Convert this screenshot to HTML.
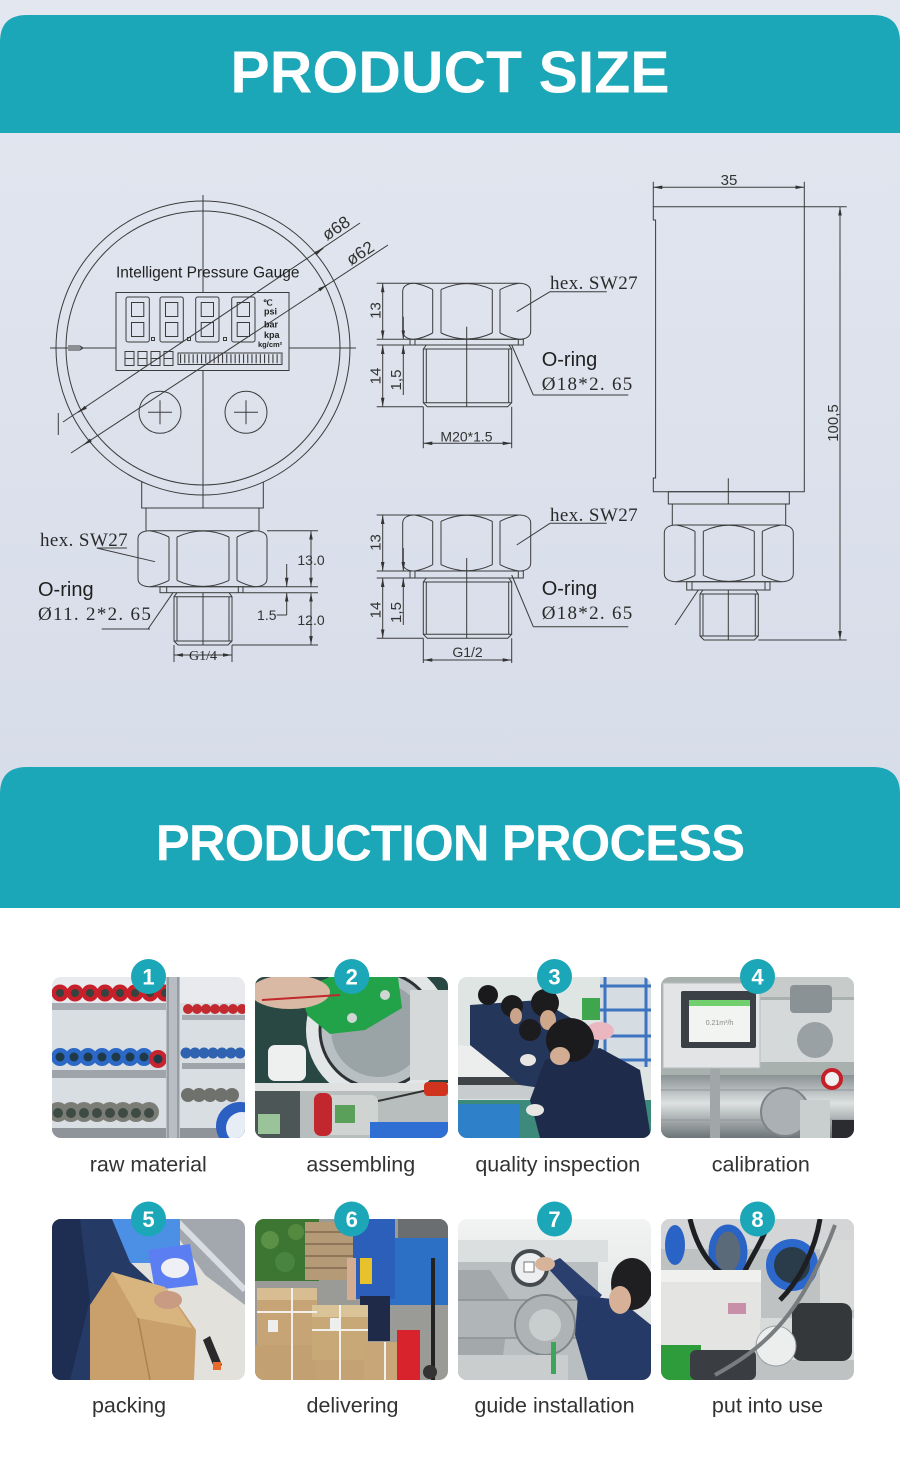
<!DOCTYPE html>
<html><head><meta charset="utf-8"><title>Product</title>
<style>html,body{margin:0;padding:0;background:#fff}svg{display:block}</style>
</head><body>
<svg xmlns="http://www.w3.org/2000/svg" width="900" height="1482" viewBox="0 0 900 1482">
<defs>
 <linearGradient id="bg" x1="0" y1="0" x2="0" y2="1"><stop offset="0" stop-color="#e3e7f0"/><stop offset="1" stop-color="#d5dbe8"/></linearGradient>
 <linearGradient id="pipe" x1="0" y1="0" x2="0" y2="1"><stop offset="0" stop-color="#8a9294"/><stop offset="0.45" stop-color="#dde1e1"/><stop offset="1" stop-color="#6c7477"/></linearGradient>
 <linearGradient id="fog" x1="0" y1="0" x2="0" y2="1"><stop offset="0" stop-color="#f2f4f3"/><stop offset="1" stop-color="#d3d8d8"/></linearGradient>
 <marker id="ar" viewBox="0 0 10 4" refX="10" refY="2" markerWidth="9" markerHeight="3.6" markerUnits="userSpaceOnUse" orient="auto-start-reverse"><path d="M0,0 L10,2 L0,4 Z" fill="#333"/></marker>
 <clipPath id="k1"><rect x="52" y="977" width="193" height="161" rx="9"/></clipPath>
 <clipPath id="k2"><rect x="255" y="977" width="193" height="161" rx="9"/></clipPath>
 <clipPath id="k3"><rect x="458" y="977" width="193" height="161" rx="9"/></clipPath>
 <clipPath id="k4"><rect x="661" y="977" width="193" height="161" rx="9"/></clipPath>
 <clipPath id="k5"><rect x="52" y="1219" width="193" height="161" rx="9"/></clipPath>
 <clipPath id="k6"><rect x="255" y="1219" width="193" height="161" rx="9"/></clipPath>
 <clipPath id="k7"><rect x="458" y="1219" width="193" height="161" rx="9"/></clipPath>
 <clipPath id="k8"><rect x="661" y="1219" width="193" height="161" rx="9"/></clipPath>
</defs>

<rect width="900" height="908" fill="url(#bg)"/>
<rect y="908" width="900" height="574" fill="#fff"/>

<!-- headers -->
<path d="M0,133 V42 Q0,15 27,15 H873 Q900,15 900,42 V133 Z" fill="#1ba7b7"/>
<text x="450" y="92.7" text-anchor="middle" font-family="Liberation Sans, Arial, sans-serif" font-weight="bold" font-size="59" fill="#fff">PRODUCT SIZE</text>
<path d="M0,908 V794 Q0,767 27,767 H873 Q900,767 900,794 V908 Z" fill="#1ba7b7"/>
<text x="450" y="860.7" text-anchor="middle" font-family="Liberation Sans, Arial, sans-serif" font-weight="bold" font-size="51" letter-spacing="-1" fill="#fff">PRODUCTION PROCESS</text>

<!-- ================= DRAWINGS ================= -->
<g fill="none" stroke="#3b3b3b" stroke-width="1">
 <!-- gauge -->
 <circle cx="203" cy="348" r="147"/>
 <circle cx="203" cy="348" r="137"/>
 <path d="M203,195 V292.5 M203,370.5 V508"/>
 <path d="M50,348 H116 M289,348 H356"/>
 <path d="M68,346 H80 L83,348 L80,350 H68"/>
 <rect x="116" y="292.5" width="173" height="78"/>
 <!-- digits -->
 <rect x="126" y="297" width="23.3" height="45" rx="2"/><rect x="131.5" y="302.5" width="12.3" height="14"/><rect x="131.5" y="322.5" width="12.3" height="14"/>
 <rect x="160" y="297" width="23.3" height="45" rx="2"/><rect x="165.5" y="302.5" width="12.3" height="14"/><rect x="165.5" y="322.5" width="12.3" height="14"/>
 <rect x="195.7" y="297" width="23.3" height="45" rx="2"/><rect x="201.2" y="302.5" width="12.3" height="14"/><rect x="201.2" y="322.5" width="12.3" height="14"/>
 <rect x="231.7" y="297" width="23.3" height="45" rx="2"/><rect x="237.2" y="302.5" width="12.3" height="14"/><rect x="237.2" y="322.5" width="12.3" height="14"/>
 <rect x="151.5" y="337.5" width="3" height="3"/><rect x="187.5" y="337.5" width="3" height="3"/><rect x="223.5" y="337.5" width="3" height="3"/>
 <rect x="125" y="351.5" width="9" height="14"/><rect x="138" y="351.5" width="9" height="14"/><rect x="151" y="351.5" width="9" height="14"/><rect x="164" y="351.5" width="9" height="14"/>
 <path d="M125,358.5 H134 M138,358.5 H147 M151,358.5 H160 M164,358.5 H173"/>
 <rect x="178" y="353" width="104" height="11.5"/>
 <path d="M180,358.7 H281" stroke-width="9" stroke-dasharray="1.1 3.1"/>
 <!-- buttons -->
 <circle cx="160" cy="412.3" r="21"/><path d="M148,412.3 H172 M160,400.3 V424.3"/>
 <circle cx="246" cy="412.3" r="21"/><path d="M234,412.3 H258 M246,400.3 V424.3"/>
 <!-- diameter lines -->
 <path d="M63,422 L360,223"/>
 <path d="M71,453 L388,245"/>
 <path d="M58.3,413 V435"/>
 <path d="M86.6,406.7 L78.3,412.3" marker-end="url(#ar)"/>
 <path d="M315,253.9 L323.3,248.3" marker-end="url(#ar)"/>
 <path d="M91.7,439.5 L83.3,445" marker-end="url(#ar)"/>
 <path d="M318.3,290.5 L326.7,285" marker-end="url(#ar)"/>

 <!-- left fitting -->
 <path d="M141.7,481.6 V508 H263.3 V481.6"/>
 <path d="M146,508 V530.7 M259,508 V530.7"/>
 <path d="M138,538.7 C138,532.7 144,530.7 150,530.7 L255,530.7 C261,530.7 267,532.7 267,538.7 L267,578.7 C267,584.7 261,586.7 255,586.7 L150,586.7 C144,586.7 138,584.7 138,578.7 Z"/>
 <path d="M150,530.7 Q159.5,532.2 169,537 M177,537 Q203,525 229,537 M237,537 Q246,532.2 255,530.7"/>
 <path d="M150,586.7 Q159.5,585.2 169,580.4 M177,580.4 Q203,592.4 229,580.4 M237,580.4 Q246,585.2 255,586.7"/>
 <path d="M169,537 V580.4 M177,537 V580.4 M229,537 V580.4 M237,537 V580.4"/>
 <rect x="160" y="586.7" width="83" height="6"/>
 <path d="M166.7,586.7 V592.7 M238.3,586.7 V592.7"/>
 <path d="M177,592.7 L174,596.7 L174,641 L178,645 L228,645 L232,641 L232,596.7 L229,592.7"/>
 <path d="M174,596.7 H232 M174,641 H232 M177,596.7 V641 M229,596.7 V641 M203,592.7 V645"/>
 <!-- left dims -->
 <path d="M311,530.7 V586.7" marker-start="url(#ar)" marker-end="url(#ar)"/>
 <path d="M311,592.7 V645" marker-start="url(#ar)" marker-end="url(#ar)"/>
 <path d="M267,530.7 H318 M243,586.7 H318 M243,592.7 H318 M232,645 H318"/>
 <path d="M286.7,564 V586.7" marker-end="url(#ar)"/>
 <path d="M286.7,615 V592.7" marker-end="url(#ar)"/>
 <path d="M276.7,615 H286.7"/>
 <path d="M174,655 H232" marker-start="url(#ar)" marker-end="url(#ar)"/>
 <path d="M174,645 V662 M232,645 V662"/>
 <!-- left leaders -->
 <path d="M96.7,548 H127 M96.7,548 L155,561.7"/>
 <path d="M101.7,629 H150 M148,629 L173,592.7"/>

 <!-- middle top fitting -->
 <path d="M402.7,291.3 C402.7,285.3 408.7,283.3 414.7,283.3 L518.7,283.3 C524.7,283.3 530.7,285.3 530.7,291.3 L530.7,331.3 C530.7,337.3 524.7,339.3 518.7,339.3 L414.7,339.3 C408.7,339.3 402.7,337.3 402.7,331.3 Z"/>
 <path d="M414.7,283.3 Q423.7,284.8 432.7,289.6 M441,289.6 Q466.7,277.6 492.3,289.6 M500,289.6 Q509.4,284.8 518.7,283.3"/>
 <path d="M414.7,339.3 Q423.7,337.8 432.7,333 M441,333 Q466.7,345 492.3,333 M500,333 Q509.4,337.8 518.7,339.3"/>
 <path d="M432.7,289.6 V333 M441,289.6 V333 M492.3,289.6 V333 M500,289.6 V333"/>
 <rect x="410" y="339.3" width="113.3" height="5.7"/>
 <path d="M415,339.3 V345 M518.3,339.3 V345"/>
 <path d="M426.3,345 L423.3,349 L423.3,402.7 L427.3,406.7 L507.7,406.7 L511.7,402.7 L511.7,349 L508.7,345"/>
 <path d="M423.3,349 H511.7 M423.3,402.7 H511.7 M426.3,349 V402.7 M508.7,349 V402.7 M466.7,326.7 V406.7"/>
 <path d="M382.7,283.3 V339.3" marker-start="url(#ar)" marker-end="url(#ar)"/>
 <path d="M382.7,345 V406.7" marker-start="url(#ar)" marker-end="url(#ar)"/>
 <path d="M376.7,283.3 H414 M376.7,339.3 H410 M376.7,345 H423.3 M376.7,406.7 H423.3"/>
 <path d="M403.3,316.7 V339.3" marker-end="url(#ar)"/>
 <path d="M403.3,395 V345" marker-end="url(#ar)"/>
 <path d="M423.3,443.3 H511.7" marker-start="url(#ar)" marker-end="url(#ar)"/>
 <path d="M423.3,406.7 V448.3 M511.7,406.7 V448.3"/>
 <path d="M550,291.7 H606.7 M550,291.7 L516.7,311.7"/>
 <path d="M533.3,395 H628.3 M533.3,395 L511.7,345"/>

 <!-- middle bottom fitting -->
 <path d="M402.7,523 C402.7,517 408.7,515 414.7,515 L518.7,515 C524.7,515 530.7,517 530.7,523 L530.7,563 C530.7,569 524.7,571 518.7,571 L414.7,571 C408.7,571 402.7,569 402.7,563 Z"/>
 <path d="M414.7,515 Q423.7,516.5 432.7,521.3 M441,521.3 Q466.7,509.3 492.3,521.3 M500,521.3 Q509.4,516.5 518.7,515"/>
 <path d="M414.7,571 Q423.7,569.5 432.7,564.7 M441,564.7 Q466.7,576.7 492.3,564.7 M500,564.7 Q509.4,569.5 518.7,571"/>
 <path d="M432.7,521.3 V564.7 M441,521.3 V564.7 M492.3,521.3 V564.7 M500,521.3 V564.7"/>
 <rect x="410" y="571" width="113.3" height="7"/>
 <path d="M415,571 V578 M518.3,571 V578"/>
 <path d="M426.3,578 L423.3,582 L423.3,634.3 L427.3,638.3 L507.7,638.3 L511.7,634.3 L511.7,582 L508.7,578"/>
 <path d="M423.3,582 H511.7 M423.3,634.3 H511.7 M426.3,582 V634.3 M508.7,582 V634.3 M466.7,558 V638.3"/>
 <path d="M382.7,515 V571" marker-start="url(#ar)" marker-end="url(#ar)"/>
 <path d="M382.7,578 V638.3" marker-start="url(#ar)" marker-end="url(#ar)"/>
 <path d="M376.7,515 H414 M376.7,571 H410 M376.7,578 H423.3 M376.7,638.3 H423.3"/>
 <path d="M403.3,548 V571" marker-end="url(#ar)"/>
 <path d="M403.3,625 V578" marker-end="url(#ar)"/>
 <path d="M423.3,660 H511.7" marker-start="url(#ar)" marker-end="url(#ar)"/>
 <path d="M423.3,638.3 V663 M511.7,638.3 V663"/>
 <path d="M550,523.3 H606.7 M550,523.3 L516.7,545"/>
 <path d="M533.3,626.7 H628.3 M533.3,626.7 L511.7,575"/>

 <!-- right side view -->
 <path d="M653.3,206.7 H804.3 V491.7 H653.3 V478 H655.6 V220 H653.3 Z"/>
 <rect x="668.3" y="491.7" width="121" height="12.3"/>
 <path d="M672.3,504 V525 M785.7,504 V525 M728.3,478.3 V504"/>
 <path d="M664.3,533 C664.3,527 670.3,525 676.3,525 L781.3,525 C787.3,525 793.3,527 793.3,533 L793.3,573.7 C793.3,579.7 787.3,581.7 781.3,581.7 L676.3,581.7 C670.3,581.7 664.3,579.7 664.3,573.7 Z"/>
 <path d="M676.3,525 Q685.7,526.5 695,531.3 M703.3,531.3 Q728.8,519.3 754.3,531.3 M762.3,531.3 Q771.8,526.5 781.3,525"/>
 <path d="M676.3,581.7 Q685.7,580.2 695,575.4 M703.3,575.4 Q728.8,587.4 754.3,575.4 M762.3,575.4 Q771.8,580.2 781.3,581.7"/>
 <path d="M695,531.3 V575.4 M703.3,531.3 V575.4 M754.3,531.3 V575.4 M762.3,531.3 V575.4"/>
 <rect x="686.7" y="581.7" width="83.3" height="8.3"/>
 <path d="M692,581.7 V590 M765,581.7 V590"/>
 <path d="M703,590 L700,594 L700,636 L704,640 L754.3,640 L758.3,636 L758.3,594 L755.3,590"/>
 <path d="M700,594 H758.3 M700,636 H758.3 M703,594 V636 M755.3,594 V636 M728.3,590 V640"/>
 <path d="M698.3,590 L675,625"/>
 <path d="M653.3,187.3 H804.3" marker-start="url(#ar)" marker-end="url(#ar)"/>
 <path d="M653.3,181.7 V206.7 M804.3,181.7 V206.7"/>
 <path d="M840,206.7 V640" marker-start="url(#ar)" marker-end="url(#ar)"/>
 <path d="M804.3,206.7 H846.7 M758.3,640 H846.7"/>
</g>

<!-- drawing texts -->
<g font-family="Liberation Sans, Arial, sans-serif" fill="#1f1f1f">
 <text x="116" y="277.5" font-size="15.5">Intelligent Pressure Gauge</text>
 <text x="263" y="305.5" font-size="8.5" font-weight="bold">℃</text>
 <text x="264" y="314.5" font-size="9" font-weight="bold">psi</text>
 <text x="264" y="327.5" font-size="9" font-weight="bold">bar</text>
 <text x="264" y="338" font-size="9" font-weight="bold">kpa</text>
 <text x="258" y="347" font-size="7.5" font-weight="bold">kg/cm²</text>
 <text x="327" y="241" font-size="17" fill="#333" transform="rotate(-33.8 327 241)">ø68</text>
 <text x="351" y="266" font-size="17" fill="#333" transform="rotate(-33.3 351 266)">ø62</text>
 <text x="38" y="596" font-size="20">O-ring</text>
 <text x="541.7" y="366" font-size="20">O-ring</text>
 <text x="541.7" y="595" font-size="20">O-ring</text>
</g>
<g font-family="Liberation Serif, 'Times New Roman', serif" fill="#2a2a2a" font-size="19">
 <text x="40" y="546" letter-spacing="0.4">hex. SW27</text>
 <text x="38" y="620" letter-spacing="1.3">Ø11. 2*2. 65</text>
 <text x="550" y="289" letter-spacing="0.4">hex. SW27</text>
 <text x="541.7" y="390" letter-spacing="1.3">Ø18*2. 65</text>
 <text x="550" y="521" letter-spacing="0.4">hex. SW27</text>
 <text x="541.7" y="619" letter-spacing="1.3">Ø18*2. 65</text>
 <text x="203" y="660" font-size="14" text-anchor="middle">G1/4</text>
</g>
<g font-family="Liberation Sans, Arial, sans-serif" fill="#333" font-size="14">
 <text x="311" y="565" text-anchor="middle">13.0</text>
 <text x="311" y="625" text-anchor="middle">12.0</text>
 <text x="276.5" y="620" text-anchor="end">1.5</text>
 <text x="380.5" y="310.5" text-anchor="middle" font-size="15" transform="rotate(-90 380.5 310.5)">13</text>
 <text x="380.5" y="376" text-anchor="middle" font-size="15" transform="rotate(-90 380.5 376)">14</text>
 <text x="401" y="380" text-anchor="middle" font-size="15" transform="rotate(-90 401 380)">1,5</text>
 <text x="380.5" y="542.5" text-anchor="middle" font-size="15" transform="rotate(-90 380.5 542.5)">13</text>
 <text x="380.5" y="610" text-anchor="middle" font-size="15" transform="rotate(-90 380.5 610)">14</text>
 <text x="401" y="612.5" text-anchor="middle" font-size="15" transform="rotate(-90 401 612.5)">1,5</text>
 <text x="466.5" y="441.5" text-anchor="middle">M20*1.5</text>
 <text x="467.5" y="657" text-anchor="middle">G1/2</text>
 <text x="729" y="185" text-anchor="middle" font-size="15">35</text>
 <text x="838" y="423" text-anchor="middle" font-size="15" transform="rotate(-90 838 423)">100,5</text>
</g>

<!-- ================= PHOTOS ================= -->
<!-- 1 raw material -->
<g clip-path="url(#k1)">
 <rect x="52" y="977" width="193" height="161" fill="#d9dee3"/>
 <rect x="52" y="977" width="193" height="26" fill="#e8eaee"/>
 <g fill="#c8202b"><circle cx="60" cy="993" r="8.5"/><circle cx="75" cy="993" r="8.5"/><circle cx="90" cy="993" r="8.5"/><circle cx="105" cy="993" r="8.5"/><circle cx="120" cy="993" r="8.5"/><circle cx="135" cy="993" r="8.5"/><circle cx="150" cy="993" r="8.5"/><circle cx="165" cy="993" r="8.5"/></g>
 <g fill="#34443f"><circle cx="60" cy="993" r="4"/><circle cx="75" cy="993" r="4"/><circle cx="90" cy="993" r="4"/><circle cx="105" cy="993" r="4"/><circle cx="120" cy="993" r="4"/><circle cx="135" cy="993" r="4"/><circle cx="150" cy="993" r="4"/><circle cx="165" cy="993" r="4"/></g>
 <g fill="#c22a2f"><circle cx="188" cy="1009" r="5"/><circle cx="197" cy="1009" r="5"/><circle cx="206" cy="1009" r="5"/><circle cx="215" cy="1009" r="5"/><circle cx="224" cy="1009" r="5"/><circle cx="233" cy="1009" r="5"/><circle cx="242" cy="1009" r="5"/></g>
 <rect x="52" y="1003" width="120" height="7" fill="#a7adb3"/>
 <rect x="182" y="1015" width="63" height="5" fill="#a7adb3"/>
 <g fill="#2c69c6"><circle cx="60" cy="1057" r="9"/><circle cx="74" cy="1057" r="9"/><circle cx="88" cy="1057" r="9"/><circle cx="102" cy="1057" r="9"/><circle cx="116" cy="1057" r="9"/><circle cx="130" cy="1057" r="9"/><circle cx="144" cy="1057" r="9"/></g>
 <circle cx="158" cy="1059" r="9" fill="#c7252d"/>
 <g fill="#1e3a48"><circle cx="60" cy="1057" r="4.5"/><circle cx="74" cy="1057" r="4.5"/><circle cx="88" cy="1057" r="4.5"/><circle cx="102" cy="1057" r="4.5"/><circle cx="116" cy="1057" r="4.5"/><circle cx="130" cy="1057" r="4.5"/><circle cx="144" cy="1057" r="4.5"/><circle cx="158" cy="1059" r="4.5"/></g>
 <g fill="#2f62b0"><circle cx="186" cy="1053" r="5.5"/><circle cx="195" cy="1053" r="5.5"/><circle cx="204" cy="1053" r="5.5"/><circle cx="213" cy="1053" r="5.5"/><circle cx="222" cy="1053" r="5.5"/><circle cx="231" cy="1053" r="5.5"/><circle cx="240" cy="1053" r="5.5"/></g>
 <rect x="52" y="1070" width="120" height="8" fill="#9ea4aa"/>
 <rect x="182" y="1063" width="63" height="6" fill="#9ea4aa"/>
 <g fill="#7b7d76"><circle cx="58" cy="1112" r="10"/><circle cx="71" cy="1112" r="10"/><circle cx="84" cy="1112" r="10"/><circle cx="97" cy="1112" r="10"/><circle cx="110" cy="1112" r="10"/><circle cx="123" cy="1112" r="10"/><circle cx="136" cy="1112" r="10"/><circle cx="149" cy="1112" r="10"/></g>
 <g fill="#3e4b45"><circle cx="58" cy="1113" r="5"/><circle cx="71" cy="1113" r="5"/><circle cx="84" cy="1113" r="5"/><circle cx="97" cy="1113" r="5"/><circle cx="110" cy="1113" r="5"/><circle cx="123" cy="1113" r="5"/><circle cx="136" cy="1113" r="5"/><circle cx="149" cy="1113" r="5"/></g>
 <g fill="#6e716c"><circle cx="188" cy="1095" r="7"/><circle cx="199" cy="1095" r="7"/><circle cx="210" cy="1095" r="7"/><circle cx="221" cy="1095" r="7"/><circle cx="232" cy="1095" r="7"/></g>
 <rect x="52" y="1128" width="193" height="10" fill="#8e949a"/>
 <rect x="166" y="977" width="14" height="161" fill="#b7bdc3"/>
 <path d="M168,977 V1138 M178,977 V1138" stroke="#8a9197" stroke-width="1.5"/>
 <circle cx="240" cy="1126" r="24" fill="#2b5fc2"/>
 <circle cx="242" cy="1128" r="16" fill="#e7edf5"/>
</g>

<!-- 2 assembling -->
<g clip-path="url(#k2)">
 <rect x="255" y="977" width="193" height="161" fill="#2a4843"/>
 <circle cx="378" cy="1030" r="72" fill="#e3e6e7"/>
 <circle cx="378" cy="1030" r="58" fill="#b9c0c3" stroke="#2d3234" stroke-width="3"/>
 <circle cx="378" cy="1030" r="47" fill="#9aa3a6"/>
 <rect x="410" y="990" width="38" height="90" fill="#d5d9da"/>
 <polygon points="298,990 330,977 398,977 402,1008 365,1030 330,1034 308,1016" fill="#22a34a"/>
 <circle cx="352" cy="1018" r="5" fill="#cfd6d4"/>
 <circle cx="385" cy="995" r="5" fill="#cfd6d4"/>
 <ellipse cx="290" cy="992" rx="40" ry="17" fill="#d9b9a3"/>
 <path d="M262,1000 L340,995" stroke="#c0282c" stroke-width="2"/>
 <rect x="268" y="1045" width="38" height="36" rx="7" fill="#eef0f0"/>
 <rect x="255" y="1083" width="193" height="55" fill="#b8bdbd"/>
 <rect x="255" y="1083" width="193" height="8" fill="#e0e2e2"/>
 <rect x="255" y="1091" width="45" height="47" fill="#4d5656"/>
 <rect x="258" y="1114" width="22" height="20" fill="#9bc39a"/>
 <rect x="320" y="1095" width="58" height="40" rx="7" fill="#cfd3d1"/>
 <rect x="314" y="1093" width="18" height="43" rx="7" fill="#c2272d"/>
 <rect x="335" y="1105" width="20" height="18" fill="#5aa05a"/>
 <rect x="370" y="1122" width="78" height="16" fill="#2f6fd4"/>
 <path d="M378,1101 L428,1090" stroke="#333" stroke-width="2"/>
 <rect x="424" y="1082" width="24" height="14" rx="4" fill="#d0341f"/>
</g>

<!-- 3 quality inspection -->
<g clip-path="url(#k3)">
 <rect x="458" y="977" width="193" height="161" fill="#dfe5e3"/>
 <rect x="600" y="977" width="51" height="90" fill="#d5dde2"/>
 <path d="M605,977 V1067 M646,977 V1067 M600,986 H651 M600,1010 H651 M600,1036 H651 M600,1060 H651" stroke="#3c74c0" stroke-width="3"/>
 <rect x="582" y="998" width="18" height="22" fill="#3ea64c"/>
 <rect x="458" y="1100" width="193" height="38" fill="#3d8a7c"/>
 <rect x="458" y="1104" width="62" height="34" fill="#2e80c8"/>
 <polygon points="458,1045 540,1055 540,1078 458,1078" fill="#eceeee"/>
 <rect x="458" y="1077" width="82" height="8" fill="#3f4448"/>
 <rect x="458" y="1085" width="82" height="14" fill="#c7cccf"/>
 <polygon points="470,1005 540,1000 600,1035 590,1095 520,1085 470,1045" fill="#24365a"/>
 <ellipse cx="600" cy="1031" rx="14" ry="9" fill="#eab7c0"/>
 <circle cx="488" cy="995" r="10" fill="#1a1a1d"/>
 <circle cx="512" cy="1006" r="11" fill="#1c1c1e"/>
 <ellipse cx="516" cy="1016" rx="6" ry="8" fill="#c9a48a"/>
 <circle cx="545" cy="1003" r="14" fill="#1c1b1d"/>
 <ellipse cx="548" cy="1020" rx="8" ry="10" fill="#cfa78b"/>
 <circle cx="530" cy="1030" r="11" fill="#1c1b1d"/>
 <polygon points="545,1060 600,1048 640,1070 651,1138 540,1138 530,1100" fill="#1e2b4a"/>
 <ellipse cx="570" cy="1040" rx="24" ry="22" fill="#1b1a1c"/>
 <ellipse cx="560" cy="1056" rx="10" ry="9" fill="#d3ad93"/>
 <ellipse cx="535" cy="1110" rx="9" ry="6" fill="#e8e6e2"/>
 <ellipse cx="528" cy="1060" rx="8" ry="6" fill="#e8e6e2"/>
</g>

<!-- 4 calibration -->
<g clip-path="url(#k4)">
 <rect x="661" y="977" width="193" height="161" fill="#a9b1ae"/>
 <rect x="760" y="977" width="94" height="20" fill="#c7cccb"/>
 <rect x="760" y="1000" width="94" height="62" fill="#d5d9d9"/>
 <rect x="790" y="985" width="42" height="28" rx="4" fill="#8b9296"/>
 <circle cx="815" cy="1040" r="18" fill="#9aa1a4"/>
 <rect x="661" y="1075" width="193" height="63" fill="url(#pipe)"/>
 <path d="M661,1090 H854 M661,1120 H854" stroke="#8f9799" stroke-width="1"/>
 <circle cx="785" cy="1112" r="24" fill="#aab0b3" stroke="#7c8487" stroke-width="2"/>
 <rect x="800" y="1100" width="30" height="38" fill="#c9cecf"/>
 <circle cx="832" cy="1079" r="9" fill="#f0f0f0" stroke="#c61f28" stroke-width="4"/>
 <rect x="832" y="1120" width="22" height="18" fill="#2a2c2f"/>
 <rect x="710" y="1066" width="10" height="72" fill="#a1a6a8"/>
 <rect x="663" y="983" width="97" height="85" fill="#e2e4e5" stroke="#b8bcbe"/>
 <rect x="681" y="991" width="75" height="57" rx="2" fill="#3b4046"/>
 <rect x="689" y="1000" width="61" height="42" fill="#f2f4f2"/>
 <rect x="689" y="1000" width="61" height="6" fill="#72cf6e"/>
 <text x="719.5" y="1025" text-anchor="middle" font-family="Liberation Sans, sans-serif" font-size="7" fill="#888">0.21m³/h</text>
</g>

<!-- 5 packing -->
<g clip-path="url(#k5)">
 <rect x="52" y="1219" width="193" height="161" fill="#e3e1dc"/>
 <polygon points="165,1219 245,1219 245,1305 205,1275" fill="#a3a8ae"/>
 <path d="M175,1219 L245,1290" stroke="#d9dde2" stroke-width="6"/>
 <rect x="100" y="1219" width="80" height="44" fill="#4c90e6"/>
 <polygon points="148,1250 190,1244 198,1285 155,1290" fill="#5b7ef2"/>
 <ellipse cx="175" cy="1268" rx="14" ry="10" fill="#eef0f6"/>
 <polygon points="52,1219 112,1219 130,1262 162,1292 152,1330 122,1346 104,1380 52,1380" fill="#263a66"/>
 <polygon points="52,1219 80,1219 90,1300 70,1380 52,1380" fill="#1e2e52"/>
 <polygon points="90,1305 112,1272 168,1290 196,1330 194,1380 90,1380" fill="#c9a06b"/>
 <polygon points="112,1272 165,1287 192,1328 138,1318" fill="#d8b47e"/>
 <path d="M138,1318 L150,1380" stroke="#a9834f" stroke-width="1.5"/>
 <ellipse cx="168" cy="1300" rx="14" ry="9" fill="#c89b82"/>
 <polygon points="203,1340 210,1336 222,1365 215,1370" fill="#2a2a2a"/>
 <rect x="213" y="1362" width="8" height="8" fill="#e96a2a"/>
</g>

<!-- 6 delivering -->
<g clip-path="url(#k6)">
 <rect x="255" y="1219" width="193" height="161" fill="#9a9a96"/>
 <rect x="255" y="1219" width="64" height="62" fill="#3d7532"/>
 <circle cx="270" cy="1240" r="9" fill="#5a9147"/><circle cx="296" cy="1232" r="8" fill="#548a40"/><circle cx="285" cy="1262" r="10" fill="#4a8540"/>
 <rect x="305" y="1222" width="50" height="58" fill="#b59a78"/>
 <path d="M305,1232 H355 M305,1244 H355 M305,1256 H355 M305,1268 H355" stroke="#8f7658" stroke-width="2"/>
 <rect x="398" y="1219" width="50" height="22" fill="#6b6e70"/>
 <rect x="380" y="1238" width="68" height="67" fill="#2c70c6"/>
 <rect x="353" y="1219" width="42" height="80" fill="#2b5fba"/>
 <rect x="360" y="1258" width="12" height="26" fill="#e8c22a"/>
 <rect x="347" y="1258" width="9" height="42" fill="#d4ad92"/>
 <rect x="360" y="1296" width="30" height="45" fill="#1e2a48"/>
 <rect x="257" y="1288" width="60" height="57" fill="#c6a475"/>
 <rect x="257" y="1288" width="60" height="12" fill="#d8bd92"/>
 <rect x="255" y="1345" width="62" height="35" fill="#c2a072"/>
 <rect x="312" y="1305" width="56" height="55" fill="#c9a878"/>
 <rect x="312" y="1305" width="56" height="12" fill="#dac397"/>
 <rect x="316" y="1360" width="52" height="20" fill="#c4a274"/>
 <rect x="364" y="1342" width="36" height="38" fill="#c8a677"/>
 <path d="M292,1288 V1380 M340,1305 V1380 M385,1342 V1380 M257,1312 H317 M312,1330 H368" stroke="#f2f0ea" stroke-width="2"/>
 <rect x="268" y="1320" width="10" height="12" fill="#eeeeee"/>
 <rect x="330" y="1318" width="9" height="11" fill="#eeeeee"/>
 <rect x="397" y="1330" width="23" height="50" fill="#d9232c"/>
 <path d="M433,1258 V1380" stroke="#222" stroke-width="4"/>
 <circle cx="430" cy="1372" r="7" fill="#333"/>
</g>

<!-- 7 guide installation -->
<g clip-path="url(#k7)">
 <rect x="458" y="1219" width="193" height="161" fill="url(#fog)"/>
 <rect x="458" y="1240" width="150" height="22" fill="#dcdfdf"/>
 <rect x="458" y="1262" width="140" height="118" fill="#b9bfc0"/>
 <polygon points="458,1270 490,1270 510,1300 500,1380 458,1380" fill="#a3a9ab"/>
 <rect x="458" y="1300" width="150" height="38" fill="#b0b6b8"/>
 <path d="M458,1300 H608 M458,1338 H608" stroke="#8b9294" stroke-width="1.5"/>
 <circle cx="545" cy="1325" r="30" fill="#aeb4b6" stroke="#7f878a" stroke-width="2"/>
 <circle cx="545" cy="1325" r="16" fill="#c8cdce"/>
 <rect x="458" y="1355" width="110" height="25" fill="#c9cdce"/>
 <circle cx="530" cy="1268" r="17" fill="#eceeef" stroke="#454a4e" stroke-width="4"/>
 <rect x="524" y="1262" width="10" height="10" fill="#fff" stroke="#777"/>
 <rect x="551" y="1342" width="5" height="32" fill="#3da55a"/>
 <polygon points="545,1265 560,1258 602,1295 588,1312" fill="#2b3f6e"/>
 <ellipse cx="545" cy="1264" rx="10" ry="7" fill="#d7b39a"/>
 <polygon points="578,1295 620,1300 651,1325 651,1380 588,1380 575,1335" fill="#263a68"/>
 <ellipse cx="632" cy="1284" rx="21" ry="26" fill="#1f1f22"/>
 <ellipse cx="620" cy="1300" rx="11" ry="14" fill="#d7b197"/>
</g>

<!-- 8 put into use -->
<g clip-path="url(#k8)">
 <rect x="661" y="1219" width="193" height="161" fill="#bfc2c3"/>
 <rect x="661" y="1219" width="193" height="30" fill="#d3d5d6"/>
 <rect x="820" y="1240" width="34" height="70" fill="#d8dada"/>
 <ellipse cx="675" cy="1245" rx="10" ry="20" fill="#2a63c6"/>
 <ellipse cx="728" cy="1252" rx="16" ry="24" fill="#5b6a78" stroke="#2a63c6" stroke-width="7"/>
 <circle cx="792" cy="1265" r="22" fill="#2a3b4a" stroke="#2c67cc" stroke-width="8"/>
 <path d="M690,1219 C700,1260 720,1280 760,1290 M770,1219 C760,1250 740,1270 735,1300 M820,1219 C815,1250 800,1280 780,1300" stroke="#1e1f22" stroke-width="5" fill="none"/>
 <rect x="661" y="1275" width="100" height="75" fill="#e4e5e2"/>
 <rect x="661" y="1270" width="100" height="12" fill="#f0f1ee"/>
 <rect x="728" y="1303" width="18" height="11" fill="#c890a8"/>
 <rect x="760" y="1318" width="94" height="42" fill="#d9dbda"/>
 <rect x="792" y="1303" width="60" height="58" rx="10" fill="#35383b"/>
 <circle cx="776" cy="1346" r="20" fill="#eceeee" stroke="#9aa0a2"/>
 <rect x="661" y="1345" width="40" height="35" fill="#2f9c3c"/>
 <rect x="690" y="1350" width="66" height="30" rx="6" fill="#3a3d42"/>
 <path d="M715,1375 C760,1350 800,1320 835,1225" stroke="#7a7d80" stroke-width="4" fill="none"/>
</g>

<!-- number badges -->
<g fill="#1ba7b7">
 <circle cx="148.5" cy="976.5" r="17.5"/><circle cx="351.7" cy="976.5" r="17.5"/><circle cx="554.5" cy="976.5" r="17.5"/><circle cx="757.5" cy="976.5" r="17.5"/>
 <circle cx="148.5" cy="1219" r="17.5"/><circle cx="351.7" cy="1219" r="17.5"/><circle cx="554.5" cy="1219" r="17.5"/><circle cx="757.5" cy="1219" r="17.5"/>
</g>
<g font-family="Liberation Sans, Arial, sans-serif" font-weight="bold" font-size="22" fill="#fff" text-anchor="middle">
 <text x="148.5" y="984.5">1</text><text x="351.7" y="984.5">2</text><text x="554.5" y="984.5">3</text><text x="757.5" y="984.5">4</text>
 <text x="148.5" y="1227">5</text><text x="351.7" y="1227">6</text><text x="554.5" y="1227">7</text><text x="757.5" y="1227">8</text>
</g>

<!-- labels -->
<g font-family="Liberation Sans, Arial, sans-serif" font-size="21.5" fill="#333" text-anchor="middle">
 <text x="148.3" y="1171.5">raw material</text>
 <text x="360.8" y="1171.5">assembling</text>
 <text x="557.8" y="1171.5">quality inspection</text>
 <text x="760.8" y="1171.5">calibration</text>
 <text x="129" y="1412.5">packing</text>
 <text x="352.5" y="1412.5">delivering</text>
 <text x="554.5" y="1412.5">guide installation</text>
 <text x="767.5" y="1412.5">put into use</text>
</g>
</svg>
</body></html>
